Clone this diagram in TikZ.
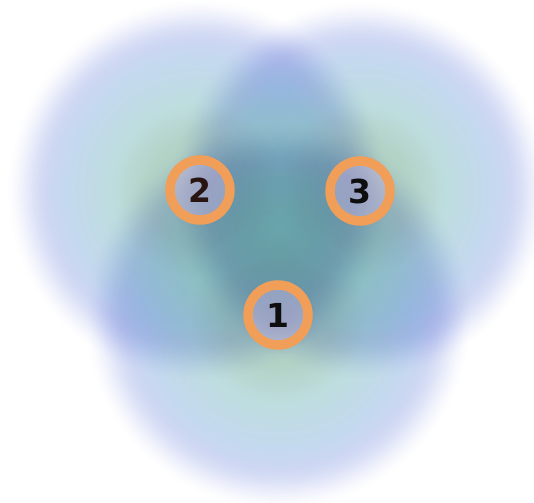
\documentclass[tikz,border=0pt]{standalone}
\usepackage{fontspec}
\newfontfamily\labelfont{DejaVu Sans}
\usetikzlibrary{fadings}
\definecolor{bc0}{RGB}{172,206,190}
\definecolor{bc1}{RGB}{180,211,200}
\definecolor{bc2}{RGB}{190,221,223}
\definecolor{bc3}{RGB}{196,216,239}
\definecolor{bc4}{RGB}{206,215,243}
\definecolor{bc5}{RGB}{218,222,249}
\definecolor{lorange}{RGB}{240,158,88}
\definecolor{lfill}{RGB}{212,184,228}
\definecolor{dbrown}{RGB}{40,20,16}
\definecolor{dblack}{RGB}{14,14,14}
\pgfdeclareradialshading{blobshade}{\pgfpointorigin}{color(0bp)=(bc0); color(7bp)=(bc1); color(11.5bp)=(bc2); color(17.5bp)=(bc3); color(20bp)=(bc4); color(25bp)=(bc5); color(50bp)=(bc5)}
\pgfdeclareradialshading{blobfade}{\pgfpointorigin}{color(0bp)=(white); color(19.6bp)=(white); color(20.6bp)=(black!8); color(21.6bp)=(black!25); color(22.6bp)=(black!50); color(23.6bp)=(black!76); color(24.4bp)=(black!93); color(25bp)=(black); color(50bp)=(black)}
\pgfdeclarefading{blobfading}{\pgfuseshading{blobfade}}
\tikzset{
  blob/.style={shading=blobshade, path fading=blobfading, fit fading=true},
  lab/.style={circle, minimum size=60pt, inner sep=0pt, draw=lorange, line width=9.5pt,
    fill=lfill, fill opacity=0.42, text opacity=1,
    font=\labelfont\bfseries\fontsize{33}{33}\selectfont}
}
\begin{document}
\begin{tikzpicture}[x=1pt,y=1pt]
\fill[white] (0,0) rectangle (534,502);
\useasboundingbox (0,0) rectangle (534,502);
\coordinate (c2) at (198,312);
\coordinate (c3) at (360,312);
\coordinate (c1) at (278,186);
\begin{scope}[blend group=multiply]
\shade[blob] (c2) circle (190);
\shade[blob] (c3) circle (188);
\shade[blob] (c1) circle (192);
\end{scope}
\node[lab, text=dbrown] (n2) at (200,312) {2};
\node[lab, text=dblack] (n3) at (360,311) {3};
\node[lab, text=dblack] (n1) at (278,187) {1};
\end{tikzpicture}
\end{document}
